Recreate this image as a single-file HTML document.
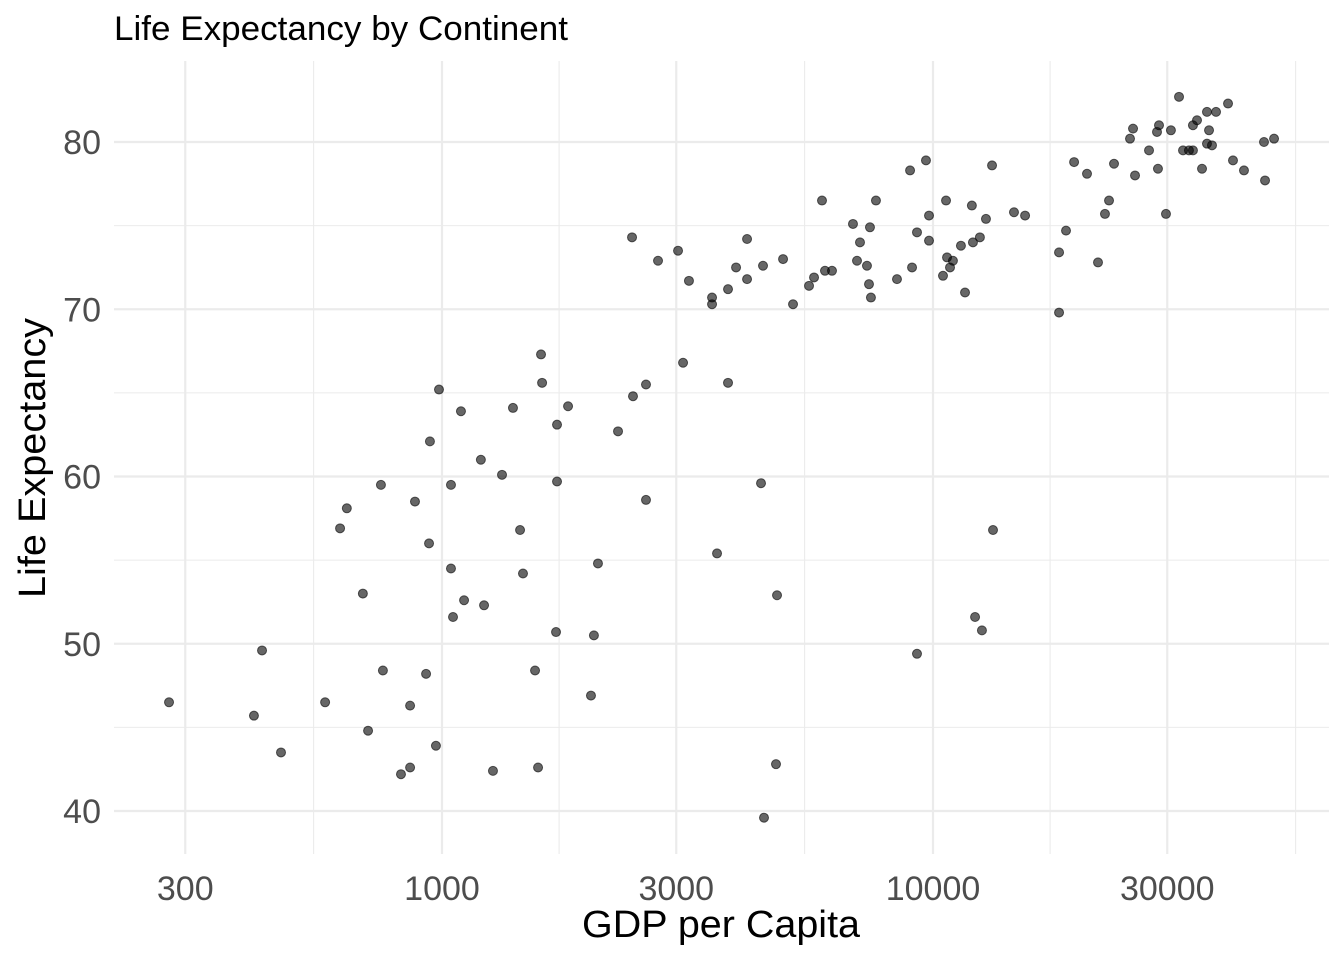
<!DOCTYPE html>
<html>
<head>
<meta charset="utf-8">
<style>
  html,body{margin:0;padding:0;background:#fff;}
  svg{display:block;font-family:"Liberation Sans",Arial,sans-serif;}
</style>
</head>
<body>
<svg id="chart" width="1344" height="960" viewBox="0 0 1344 960" xmlns="http://www.w3.org/2000/svg">
  <text x="114" y="40" font-size="34" textLength="454" lengthAdjust="spacingAndGlyphs" fill="#000">Life Expectancy by Continent</text>
  <g id="grid"></g>
  <g id="points"></g>
  <g id="xticks"></g>
  <g id="yticks"></g>
  <text x="721" y="937" font-size="38" textLength="278" lengthAdjust="spacingAndGlyphs" text-anchor="middle" fill="#000">GDP per Capita</text>
  <text x="0" y="0" transform="translate(45,458) rotate(-90)" font-size="38" textLength="280" lengthAdjust="spacingAndGlyphs" text-anchor="middle" fill="#000">Life Expectancy</text>
</svg>
<script>
const gdpPerCap = [986,1093,1395,945,1200,1325,751,1043,881,640,620,941,1442,1043,1462,690,1109,1218,1053,430,758,928,278,414,578,861,707,470,972,861,825,1270,
1591,1599,3097,2603,3824,2449,1806,1715,2283,1715,4464,2603,3632,2078,4812,1707,2039,1547,2011,1569,4789,4527,
13250,12180,12580,9277,
2438,2754,3025,3184,3548,3548,3824,3971,4181,4181,4506,4950,5187,5591,5724,6026,6227,5942,7653,6871,7441,7101,7002,7337,7407,7475,8446,9064,
8980,9676,13190,10630,12000,9815,12820,14620,15400,9277,9815,11400,12060,12460,10680,10980,10830,10480,11620,19380,20590,18660,18060,21680,18060,
31700,39890,36140,37710,34490,33840,28860,28590,25550,25190,30520,36490,36140,37000,47220,49500,27540,32300,33210,33840,40830,42990,47450,35310,28720,25790,23370,22830,22400,29820];
const lifeExp = [65.2,63.9,64.1,62.1,61.0,60.1,59.5,59.5,58.5,58.1,56.9,56.0,56.8,54.5,54.2,53.0,52.6,52.3,51.6,49.6,48.4,48.2,46.5,45.7,46.5,46.3,44.8,43.5,43.9,42.6,42.2,42.4,
67.3,65.6,66.8,65.5,65.6,64.8,64.2,63.1,62.7,59.7,59.6,58.6,55.4,54.8,52.9,50.7,50.5,48.4,46.9,42.6,42.8,39.6,
56.8,51.6,50.8,49.4,
74.3,72.9,73.5,71.7,70.7,70.3,71.2,72.5,74.2,71.8,72.6,73.0,70.3,71.4,71.9,72.3,72.3,76.5,76.5,75.1,74.9,74.0,72.9,72.6,71.5,70.7,71.8,72.5,
78.3,78.9,78.6,76.5,76.2,75.6,75.4,75.8,75.6,74.6,74.1,73.8,74.0,74.3,73.1,72.9,72.5,72.0,71.0,78.8,78.1,74.7,73.4,72.8,69.8,
82.7,82.3,81.8,81.8,81.3,81.0,81.0,80.6,80.8,80.2,80.7,80.7,79.9,79.8,80.0,80.2,79.5,79.5,79.5,79.5,78.9,78.3,77.7,78.4,78.4,78.0,78.7,76.5,75.7,75.7];
const xTickValues = [300,1000,3000,10000,30000];
const xTickLabels = ["300","1000","3000","10000","30000"];
const xMinorValues = [547.7,1732,5477,17321,54772];
const yTickValues = [40,50,60,70,80];
const yTickLabels = ["40","50","60","70","80"];
const yMinorValues = [45,55,65,75];

const NS = "http://www.w3.org/2000/svg";
const panel = {left:114, right:1329, top:61, bottom:854};
function xScale(v){ return 442 + 491*(Math.log10(v)-3); }
function yScale(v){ return 811 - (v-40)*16.725; }
function mk(tag, attrs, parent){
  const el = document.createElementNS(NS, tag);
  for (const k in attrs) el.setAttribute(k, attrs[k]);
  parent.appendChild(el);
  return el;
}
const grid = document.getElementById('grid');
yMinorValues.forEach(v=>{
  const l = mk('line',{x1:panel.left,x2:panel.right,y1:yScale(v),y2:yScale(v),stroke:'#ebebeb','stroke-width':1.1},grid);
  
  
});
xMinorValues.forEach(v=>{
  const x = xScale(v); if (x>panel.right) return;
  const l = mk('line',{x1:x,x2:x,y1:panel.top,y2:panel.bottom,stroke:'#ebebeb','stroke-width':1.1},grid);
  
  
});
yTickValues.forEach(v=>{
  const l = mk('line',{x1:panel.left,x2:panel.right,y1:yScale(v),y2:yScale(v),stroke:'#ebebeb','stroke-width':2.2},grid);
  
  
});
xTickValues.forEach(v=>{
  const l = mk('line',{x1:xScale(v),x2:xScale(v),y1:panel.top,y2:panel.bottom,stroke:'#ebebeb','stroke-width':2.2},grid);
  
  
});
const xt = document.getElementById('xticks');
xTickValues.forEach((v,i)=>{
  const t = mk('text',{x:xScale(v),y:900,'font-size':34,'text-anchor':'middle',fill:'#4d4d4d'},xt);
  t.textContent = xTickLabels[i];
  
  
});
const yt = document.getElementById('yticks');
yTickValues.forEach((v,i)=>{
  const t = mk('text',{x:101,y:yScale(v)+12,'font-size':34,'text-anchor':'end',fill:'#4d4d4d'},yt);
  t.textContent = yTickLabels[i];
  
  
});
const pts = document.getElementById('points');
gdpPerCap.forEach((g,i)=>{
  const c = mk('circle',{cx:xScale(g),cy:yScale(lifeExp[i]),r:4.5,fill:'#000',stroke:'#000','stroke-width':1,'fill-opacity':0.6,'stroke-opacity':0.6},pts);
  
  
});
</script>
</body>
</html>
